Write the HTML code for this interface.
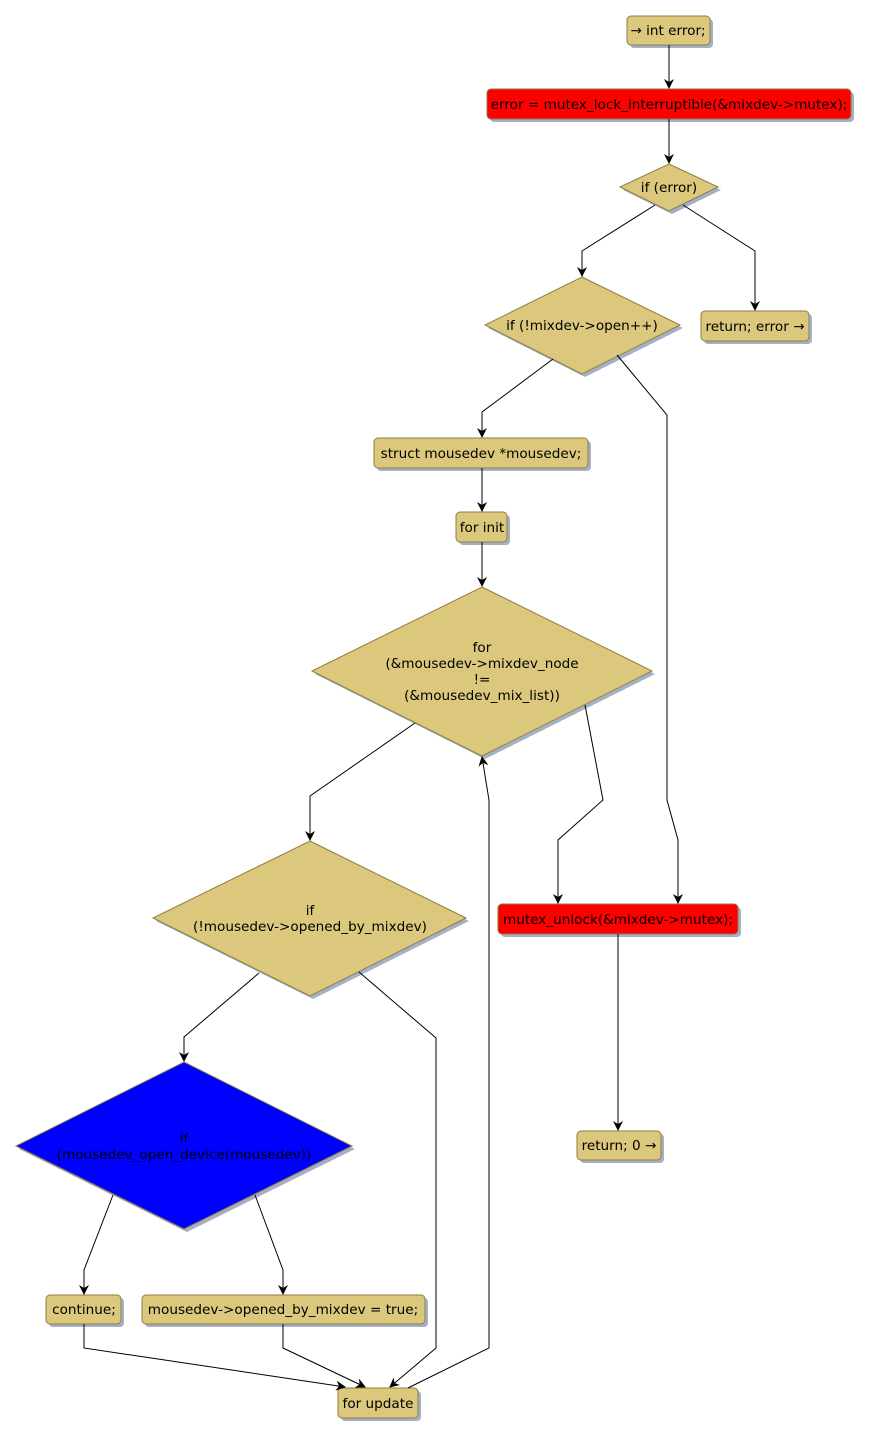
<!DOCTYPE html>
<html><head><meta charset="utf-8"><style>
html,body{margin:0;padding:0;background:#fff;width:870px;height:1437px;overflow:hidden}
svg text{font-family:"DejaVu Sans","Liberation Sans",sans-serif;font-size:13.6px;fill:#000;text-anchor:middle}
</style></head><body>
<svg width="870" height="1437" viewBox="0 0 870 1437" xmlns="http://www.w3.org/2000/svg">
<defs>
<marker id="a" viewBox="0 0 10 10" refX="9" refY="5" markerWidth="10" markerHeight="10" markerUnits="userSpaceOnUse" orient="auto">
<path d="M0,0 L10,5 L0,10 L3,5 z" fill="#000"/></marker>
</defs>
<g fill="#a4afc8">
<rect x="630" y="19" width="83" height="29" rx="4"/>
<rect x="490" y="92" width="364" height="30" rx="4"/>
<polygon points="672,167 721,190 672,214 623,190"/>
<polygon points="585,280 683,328 585,377 488,328"/>
<rect x="704" y="314" width="108" height="30" rx="4"/>
<rect x="377" y="441" width="214" height="30" rx="4"/>
<rect x="459" y="515" width="51" height="30" rx="4"/>
<polygon points="485,590 655,674 485,759 315,674"/>
<polygon points="313,844 469,921 313,999 156,921"/>
<rect x="501" y="907" width="240" height="30" rx="4"/>
<polygon points="187,1065 355,1149 187,1232 19,1149"/>
<rect x="580" y="1134" width="84" height="29" rx="4"/>
<rect x="49" y="1298" width="75" height="29" rx="4"/>
<rect x="145" y="1298" width="283" height="29" rx="4"/>
<rect x="341" y="1391" width="80" height="30" rx="4"/>
</g>
<g stroke="#8f7e3e" stroke-width="1">
<rect x="627" y="16" width="83" height="29" rx="4" fill="#dbc87d"/>
<rect x="487" y="89" width="364" height="30" rx="4" fill="#ff0000"/>
<polygon points="669,164 718,187 669,211 620,187" fill="#dbc87d"/>
<polygon points="582,277 680,325 582,374 485,325" fill="#dbc87d"/>
<rect x="701" y="311" width="108" height="30" rx="4" fill="#dbc87d"/>
<rect x="374" y="438" width="214" height="30" rx="4" fill="#dbc87d"/>
<rect x="456" y="512" width="51" height="30" rx="4" fill="#dbc87d"/>
<polygon points="482,587 652,671 482,756 312,671" fill="#dbc87d"/>
<polygon points="310,841 466,918 310,996 153,918" fill="#dbc87d"/>
<rect x="498" y="904" width="240" height="30" rx="4" fill="#ff0000"/>
<polygon points="184,1062 352,1146 184,1229 16,1146" fill="#0000ff"/>
<rect x="577" y="1131" width="84" height="29" rx="4" fill="#dbc87d"/>
<rect x="46" y="1295" width="75" height="29" rx="4" fill="#dbc87d"/>
<rect x="142" y="1295" width="283" height="29" rx="4" fill="#dbc87d"/>
<rect x="338" y="1388" width="80" height="30" rx="4" fill="#dbc87d"/>
</g>
<g fill="none" stroke="#000" stroke-width="1" marker-end="url(#a)">
<polyline points="669,45 669,88"/>
<polyline points="669,119 669,163"/>
<polyline points="655,205 582,251 582,276"/>
<polyline points="683,205 755,251 755,310"/>
<polyline points="553,359 482,412 482,437"/>
<polyline points="617,355 667,415 667,800 678,840 678,903"/>
<polyline points="482,468 482,511"/>
<polyline points="482,542 482,586"/>
<polyline points="415,723 310,796 310,840"/>
<polyline points="585,705 603,800 558,840 558,903"/>
<polyline points="259,973 184,1037 184,1061"/>
<polyline points="359,972 436,1038 436,1348 390,1387"/>
<polyline points="113,1195 84,1270 84,1294"/>
<polyline points="255,1195 283,1270 283,1294"/>
<polyline points="84,1324 84,1348 345,1387"/>
<polyline points="283,1324 283,1348 365,1387"/>
<polyline points="408,1388 489,1348 489,800 482,757"/>
<polyline points="618,934 618,1130"/>
</g>
<text x="668" y="35">→ int error;</text>
<text x="669" y="109">error = mutex_lock_interruptible(&amp;mixdev-&gt;mutex);</text>
<text x="669" y="192">if (error)</text>
<text x="582" y="330">if (!mixdev-&gt;open++)</text>
<text x="755" y="331">return; error →</text>
<text x="481" y="458">struct mousedev *mousedev;</text>
<text x="482" y="532">for init</text>
<text x="482" y="652">for</text>
<text x="482" y="668">(&amp;mousedev-&gt;mixdev_node</text>
<text x="482" y="684">!=</text>
<text x="482" y="700">(&amp;mousedev_mix_list))</text>
<text x="310" y="915">if</text>
<text x="310" y="931">(!mousedev-&gt;opened_by_mixdev)</text>
<text x="618" y="924">mutex_unlock(&amp;mixdev-&gt;mutex);</text>
<text x="184" y="1143">if</text>
<text x="184" y="1159">(mousedev_open_device(mousedev))</text>
<text x="619" y="1150">return; 0 →</text>
<text x="84" y="1314">continue;</text>
<text x="283" y="1314">mousedev-&gt;opened_by_mixdev = true;</text>
<text x="378" y="1408">for update</text>
</svg>
</body></html>
